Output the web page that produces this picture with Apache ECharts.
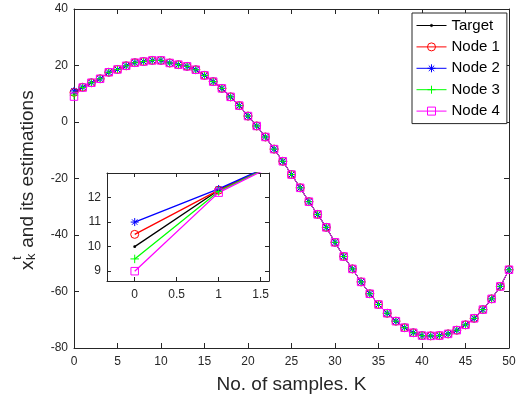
<!DOCTYPE html>
<html><head><meta charset="utf-8">
<script src="https://cdn.jsdelivr.net/npm/echarts@6/dist/echarts.min.js"></script>
<style>html,body{margin:0;padding:0;background:#fff}#c{width:528px;height:404px}</style>
</head><body><div id="c"></div>
<script>
// ---- data ----
const samples = [0,1,2,3,4,5,6,7,8,9,10,11,12,13,14,15,16,17,18,19,20,21,22,23,24,25,26,27,28,29,30,31,32,33,34,35,36,37,38,39,40,41,42,43,44,45,46,47,48,49,50];
const target = [10,12.3,13.9,15.3,17.6,18.6,19.9,21.0,21.4,21.8,21.8,20.9,20.3,19.7,18.5,16.5,14.3,11.9,8.9,5.8,2.1,-1.4,-5.3,-9.6,-13.9,-18.6,-23.3,-28.2,-32.7,-37.3,-42.6,-47.6,-52.0,-56.6,-60.8,-64.6,-67.7,-70.5,-72.8,-74.6,-75.6,-75.7,-75.6,-75.0,-73.7,-71.8,-69.5,-66.4,-62.6,-58.2,-52.3];
const node1 = [10.5,12.3,13.9,15.3,17.6,18.6,19.9,21.0,21.4,21.8,21.8,20.9,20.3,19.7,18.5,16.5,14.3,11.9,8.9,5.8,2.1,-1.4,-5.3,-9.6,-13.9,-18.6,-23.3,-28.2,-32.7,-37.3,-42.6,-47.6,-52.0,-56.6,-60.8,-64.6,-67.7,-70.5,-72.8,-74.6,-75.6,-75.7,-75.6,-75.0,-73.7,-71.8,-69.5,-66.4,-62.6,-58.2,-52.3];
const node2 = [11.0,12.35,13.9,15.3,17.6,18.6,19.9,21.0,21.4,21.8,21.8,20.9,20.3,19.7,18.5,16.5,14.3,11.9,8.9,5.8,2.1,-1.4,-5.3,-9.6,-13.9,-18.6,-23.3,-28.2,-32.7,-37.3,-42.6,-47.6,-52.0,-56.6,-60.8,-64.6,-67.7,-70.5,-72.8,-74.6,-75.6,-75.7,-75.6,-75.0,-73.7,-71.8,-69.5,-66.4,-62.6,-58.2,-52.3];
const node3 = [9.5,12.25,13.9,15.3,17.6,18.6,19.9,21.0,21.4,21.8,21.8,20.9,20.3,19.7,18.5,16.5,14.3,11.9,8.9,5.8,2.1,-1.4,-5.3,-9.6,-13.9,-18.6,-23.3,-28.2,-32.7,-37.3,-42.6,-47.6,-52.0,-56.6,-60.8,-64.6,-67.7,-70.5,-72.8,-74.6,-75.6,-75.7,-75.6,-75.0,-73.7,-71.8,-69.5,-66.4,-62.6,-58.2,-52.3];
const node4 = [9.0,12.2,13.9,15.3,17.6,18.6,19.9,21.0,21.4,21.8,21.8,20.9,20.3,19.7,18.5,16.5,14.3,11.9,8.9,5.8,2.1,-1.4,-5.3,-9.6,-13.9,-18.6,-23.3,-28.2,-32.7,-37.3,-42.6,-47.6,-52.0,-56.6,-60.8,-64.6,-67.7,-70.5,-72.8,-74.6,-75.6,-75.7,-75.6,-75.0,-73.7,-71.8,-69.5,-66.4,-62.6,-58.2,-52.3];
const seriesNames = ['Target','Node 1','Node 2','Node 3','Node 4'];
const insetXTicks = [0,0.5,1,1.5];
const insetYTicks = [9,10,11,12];

// ---- styling ----
const FONT = '"Liberation Sans", Arial, Helvetica, sans-serif';
const AX = '#262626';
const defs = [
  {data: target, color:'#000000', symbol:'path://M0,0M10,10M3.6,5a1.4,1.4 0 1,0 2.8,0a1.4,1.4 0 1,0 -2.8,0z', size:10, fill:'#000000', bw:0},
  {data: node1, color:'#ff0000', symbol:'circle', size:8},
  {data: node2, color:'#0000ff', symbol:'path://M5,0L5,10M0,5L10,5M1.6,1.6L8.4,8.4M8.4,1.6L1.6,8.4', size:8},
  {data: node3, color:'#00ff00', symbol:'path://M5,0L5,10M0,5L10,5', size:8.5},
  {data: node4, color:'#ff00ff', symbol:'rect', size:7.5}
];
function pairs(ys){ return ys.map((v,i)=>[samples[i], v]); }
function mk(d, i, inset){
  return {
    name: seriesNames[i], type:'line', data: pairs(d.data),
    xAxisIndex: inset?2:0, yAxisIndex: inset?2:0,
    symbol: d.symbol, symbolSize: d.size, showAllSymbol:true, clip:true,
    lineStyle:{color:d.color, width: inset?1.3:1},
    itemStyle:{color: d.fill || 'rgba(0,0,0,0)', borderColor:d.color, borderWidth: d.bw===0?0:1},
    emphasis:{disabled:true}, z: inset?8:2, animation:false
  };
}
function axisBase(extra){
  return Object.assign({
    type:'value', splitLine:{show:false},
    axisLine:{show:true, onZero:false, lineStyle:{color:AX, width:1}},
    axisTick:{show:true, inside:true, length:5, lineStyle:{color:AX, width:1}},
    axisLabel:{show:true, color:AX, fontSize:12, fontFamily:FONT}
  }, extra);
}
const chart = echarts.init(document.getElementById('c'), null, {renderer:'canvas'});
const series = [];
defs.forEach((d,i)=>series.push(mk(d,i,false)));
defs.forEach((d,i)=>series.push(mk(d,i,true)));
chart.setOption({
  animation:false,
  backgroundColor:'#ffffff',
  grid:[
    {left:74, right:19, top:9, bottom:56, show:false},
    {left:107, top:173, width:162, height:108, show:true, backgroundColor:'#ffffff', borderWidth:0, z:5}
  ],
  xAxis:[
    axisBase({gridIndex:0, min:0, max:50, interval:5, position:'bottom',
      axisLabel:{color:AX, fontSize:12, fontFamily:FONT, margin:8},
      name:'No. of samples. K', nameLocation:'middle', nameGap:27,
      nameTextStyle:{fontSize:19, color:AX, fontFamily:FONT}}),
    axisBase({gridIndex:0, min:0, max:50, interval:5, position:'top', axisLabel:{show:false}}),
    axisBase({gridIndex:1, min:-0.33, max:1.6, position:'bottom', z:6,
      axisTick:{show:true, inside:true, length:4, customValues:insetXTicks, lineStyle:{color:AX}},
      axisLabel:{show:true, color:AX, fontSize:12, fontFamily:FONT, margin:8, customValues:insetXTicks}}),
    axisBase({gridIndex:1, min:-0.33, max:1.6, position:'top', z:6,
      axisTick:{show:true, inside:true, length:4, customValues:insetXTicks, lineStyle:{color:AX}},
      axisLabel:{show:false}})
  ],
  yAxis:[
    axisBase({gridIndex:0, min:-80, max:40, interval:20, position:'left',
      axisLabel:{color:AX, fontSize:12, fontFamily:FONT, margin:6}}),
    axisBase({gridIndex:0, min:-80, max:40, interval:20, position:'right', axisLabel:{show:false}}),
    axisBase({gridIndex:1, min:8.6, max:13, position:'left', z:6,
      axisTick:{show:true, inside:true, length:4, customValues:insetYTicks, lineStyle:{color:AX}},
      axisLabel:{show:true, color:AX, fontSize:12, fontFamily:FONT, margin:6, customValues:insetYTicks}}),
    axisBase({gridIndex:1, min:8.6, max:13, position:'right', z:6,
      axisTick:{show:true, inside:true, length:4, customValues:insetYTicks, lineStyle:{color:AX}},
      axisLabel:{show:false}})
  ],
  legend:{
    data: seriesNames, orient:'vertical', left:412, top:13,
    itemWidth:30, itemHeight:10, itemGap:6.4, padding:[5,7,5,4],
    borderColor:AX, borderWidth:1, backgroundColor:'#ffffff',
    lineStyle:{width:1},
    itemStyle:{borderWidth:1},
    textStyle:{fontSize:15, fontFamily:FONT, color:'#000'},
    selectedMode:false
  },
  graphic:[{
    type:'group', x:0, y:270, rotation:Math.PI/2,
    children:[
      {type:'text', x:0, y:27.4, style:{text:'x', fontSize:19, fontFamily:FONT, fill:AX, verticalAlign:'middle', align:'left'}},
      {type:'text', x:10, y:17.5, style:{text:'t', fontSize:13, fontFamily:FONT, fill:AX, verticalAlign:'middle', align:'left'}},
      {type:'text', x:10, y:31.5, style:{text:'k', fontSize:13, fontFamily:FONT, fill:AX, verticalAlign:'middle', align:'left'}},
      {type:'text', x:17, y:27.4, style:{text:' and its estimations', fontSize:19, fontFamily:FONT, fill:AX, verticalAlign:'middle', align:'left'}}
    ]
  }],
  series: series
});
</script>
</body></html>
